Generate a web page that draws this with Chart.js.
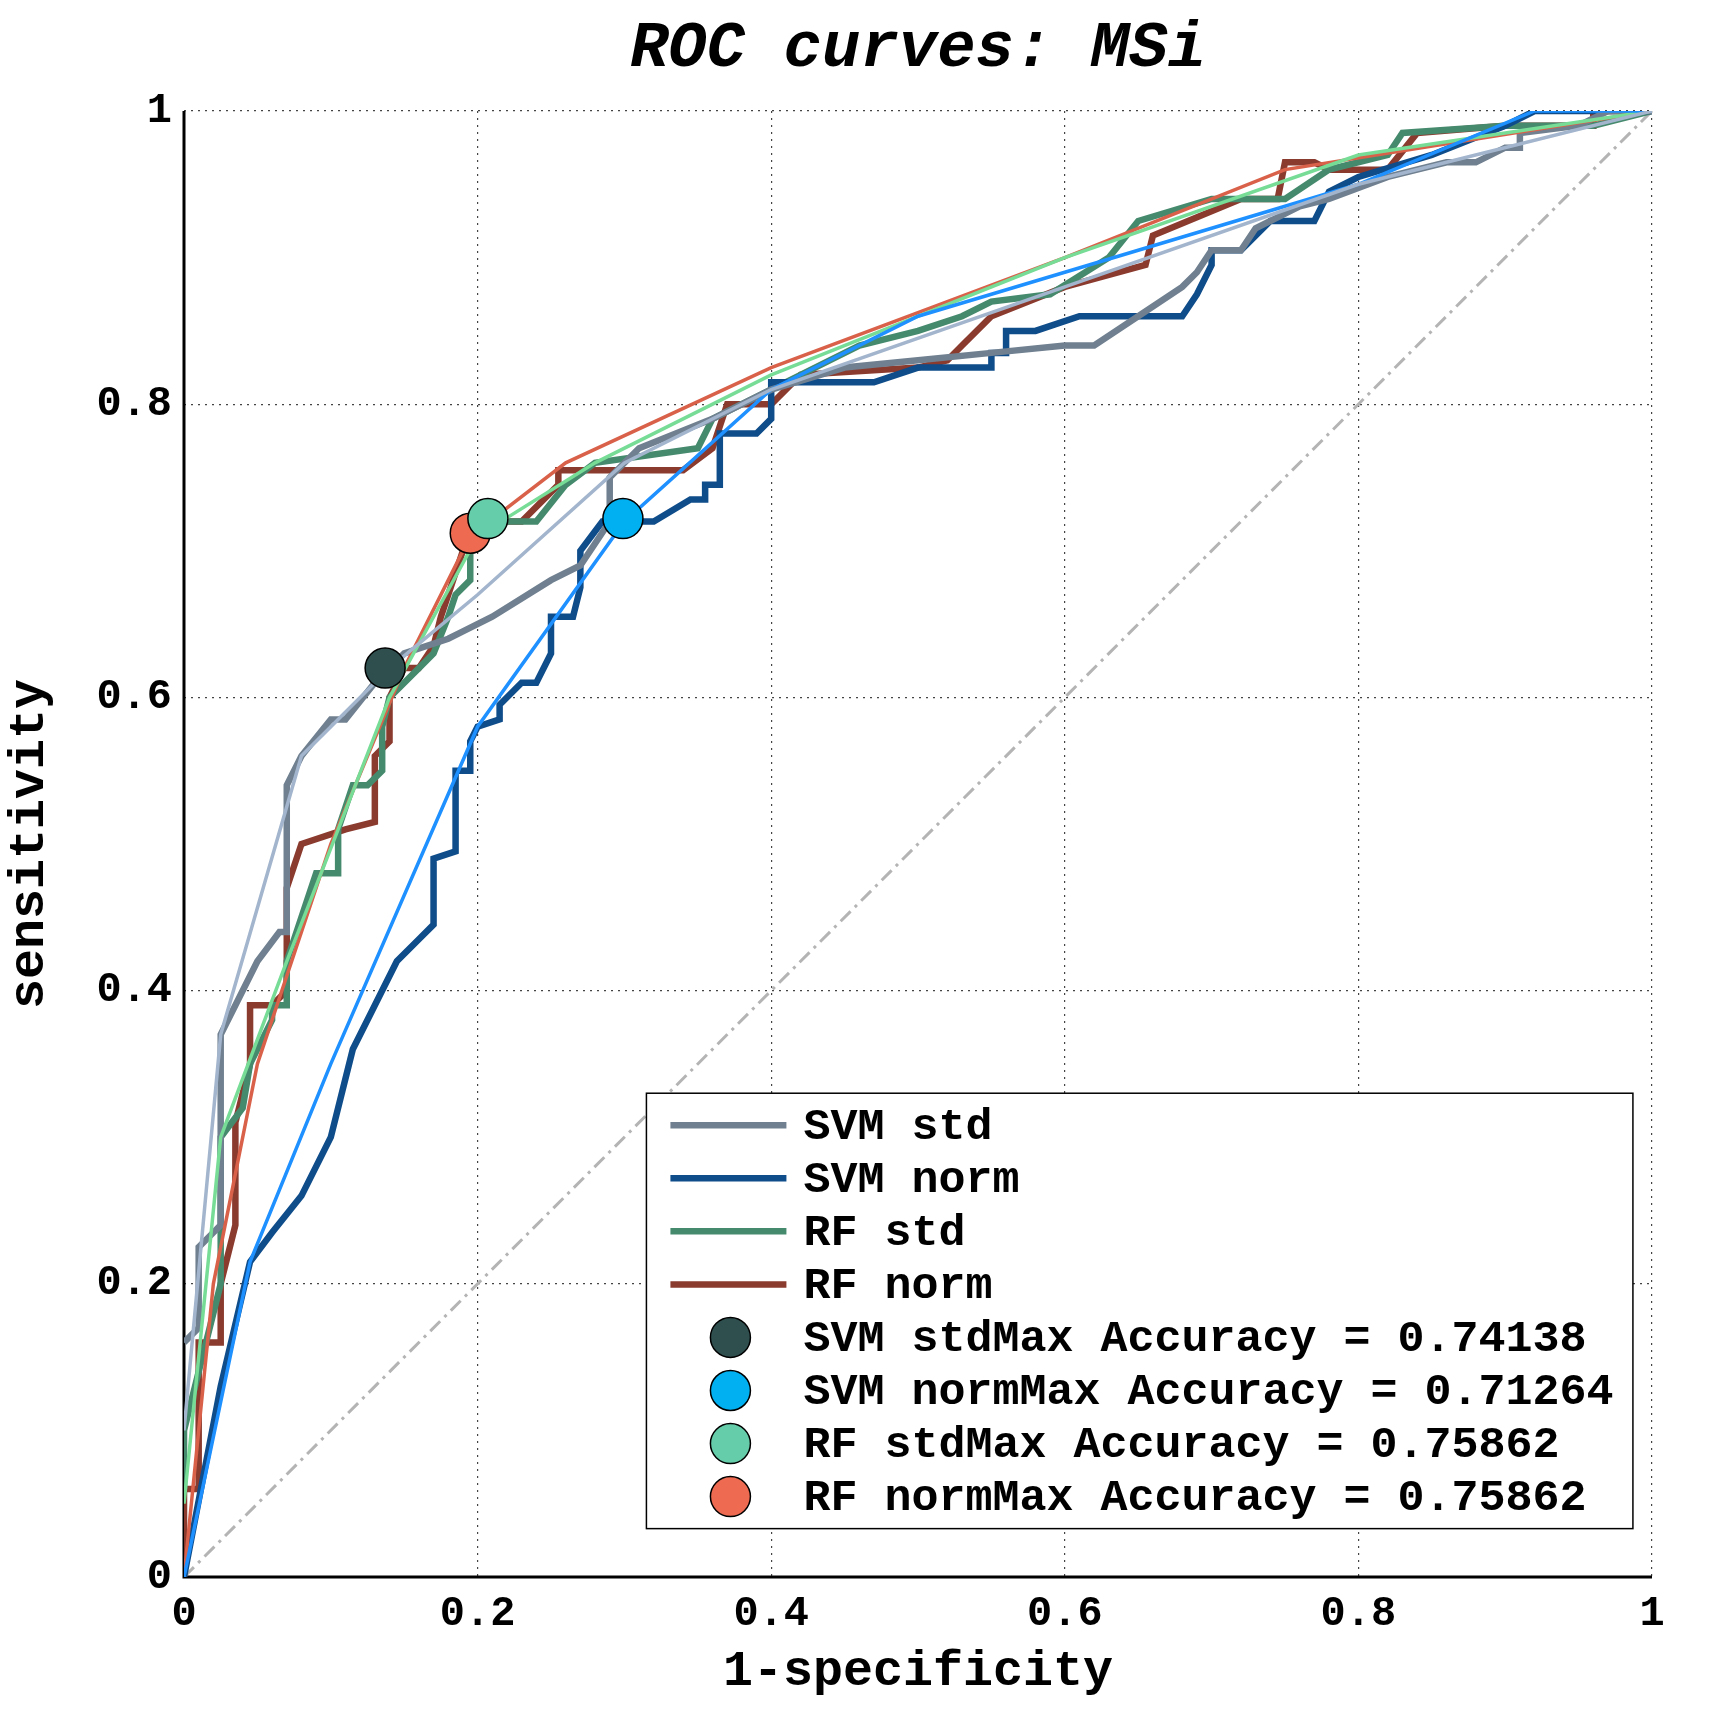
<!DOCTYPE html>
<html>
<head>
<meta charset="utf-8">
<script src="https://cdn.jsdelivr.net/npm/chart.js@4"></script>
<style>
  html, body { margin: 0; padding: 0; background: #fff; }
  #wrap { width: 1718px; height: 1716px; }
</style>
</head>
<body>
<div id="wrap"><canvas id="roc" width="1718" height="1716"></canvas></div>
<script>
const tickValues = [0, 0.2, 0.4, 0.6, 0.8, 1];
const tickLabels = ['0', '0.2', '0.4', '0.6', '0.8', '1'];

// step curves (thick)
const svmStdX = [0, 0.01, 0.01, 0.02, 0.025, 0.025, 0.035, 0.05, 0.065, 0.07, 0.07, 0.08, 0.1, 0.11, 0.13, 0.14, 0.15, 0.18, 0.19, 0.21, 0.25, 0.27, 0.29, 0.29, 0.31, 0.36, 0.4, 0.45, 0.5, 0.55, 0.6, 0.62, 0.65, 0.68, 0.69, 0.7, 0.72, 0.73, 0.76, 0.78, 0.82, 0.86, 0.88, 0.9, 0.91, 0.91, 0.95, 0.97, 1];
const svmStdY = [0.16, 0.17, 0.225, 0.235, 0.24, 0.37, 0.39, 0.42, 0.44, 0.44, 0.54, 0.56, 0.585, 0.585, 0.61, 0.62, 0.63, 0.64, 0.645, 0.655, 0.68, 0.69, 0.72, 0.75, 0.77, 0.79, 0.81, 0.825, 0.83, 0.835, 0.84, 0.84, 0.86, 0.88, 0.89, 0.905, 0.905, 0.92, 0.935, 0.94, 0.955, 0.965, 0.965, 0.975, 0.975, 0.985, 0.99, 1, 1];

const svmNormX = [0, 0.025, 0.045, 0.06, 0.08, 0.1, 0.115, 0.13, 0.145, 0.16, 0.17, 0.17, 0.185, 0.185, 0.195, 0.195, 0.2, 0.215, 0.215, 0.23, 0.24, 0.25, 0.25, 0.265, 0.27, 0.27, 0.285, 0.32, 0.345, 0.355, 0.355, 0.365, 0.365, 0.39, 0.4, 0.4, 0.47, 0.5, 0.55, 0.55, 0.56, 0.56, 0.58, 0.61, 0.68, 0.69, 0.7, 0.7, 0.72, 0.74, 0.77, 0.78, 0.8, 0.85, 0.9, 0.92, 1];
const svmNormY = [0, 0.13, 0.215, 0.235, 0.26, 0.3, 0.36, 0.39, 0.42, 0.435, 0.445, 0.49, 0.495, 0.55, 0.55, 0.57, 0.58, 0.585, 0.595, 0.61, 0.61, 0.63, 0.655, 0.655, 0.675, 0.7, 0.72, 0.72, 0.735, 0.735, 0.745, 0.745, 0.78, 0.78, 0.79, 0.815, 0.815, 0.825, 0.825, 0.835, 0.835, 0.85, 0.85, 0.86, 0.86, 0.875, 0.895, 0.905, 0.905, 0.925, 0.925, 0.945, 0.955, 0.97, 0.99, 1, 1];

const rfStdX = [0, 0, 0.02, 0.025, 0.025, 0.04, 0.045, 0.06, 0.06, 0.07, 0.07, 0.09, 0.105, 0.105, 0.115, 0.125, 0.135, 0.135, 0.14, 0.16, 0.17, 0.18, 0.185, 0.195, 0.195, 0.24, 0.26, 0.28, 0.35, 0.36, 0.38, 0.42, 0.46, 0.5, 0.53, 0.55, 0.59, 0.63, 0.65, 0.7, 0.75, 0.78, 0.82, 0.83, 0.9, 0.96, 1];
const rfStdY = [0.06, 0.1, 0.18, 0.2, 0.3, 0.32, 0.35, 0.38, 0.39, 0.39, 0.42, 0.48, 0.48, 0.51, 0.54, 0.54, 0.55, 0.58, 0.6, 0.62, 0.63, 0.655, 0.67, 0.68, 0.72, 0.72, 0.745, 0.76, 0.77, 0.79, 0.8, 0.82, 0.84, 0.85, 0.86, 0.87, 0.875, 0.9, 0.925, 0.94, 0.94, 0.96, 0.97, 0.985, 0.99, 0.99, 1];

const rfNormX = [0, 0, 0.01, 0.01, 0.025, 0.025, 0.035, 0.035, 0.045, 0.045, 0.06, 0.07, 0.07, 0.08, 0.11, 0.13, 0.13, 0.14, 0.14, 0.15, 0.16, 0.17, 0.175, 0.19, 0.2, 0.23, 0.255, 0.255, 0.34, 0.36, 0.37, 0.4, 0.42, 0.5, 0.52, 0.53, 0.55, 0.6, 0.655, 0.66, 0.72, 0.745, 0.75, 0.77, 0.78, 0.82, 0.84, 0.9, 0.96, 0.96, 1];
const rfNormY = [0, 0.06, 0.06, 0.16, 0.16, 0.2, 0.24, 0.31, 0.35, 0.39, 0.39, 0.4, 0.47, 0.5, 0.51, 0.515, 0.56, 0.57, 0.6, 0.62, 0.62, 0.635, 0.655, 0.7, 0.72, 0.72, 0.745, 0.755, 0.755, 0.77, 0.8, 0.8, 0.82, 0.825, 0.83, 0.84, 0.86, 0.88, 0.895, 0.915, 0.94, 0.94, 0.965, 0.965, 0.96, 0.96, 0.985, 0.99, 0.99, 1, 1];

// smoothed curves (thin)
const svmStdFitX = [0, 0.025, 0.08, 0.1, 0.14, 0.2, 0.3, 0.4, 0.6, 0.8, 1];
const svmStdFitY = [0.1, 0.37, 0.56, 0.58, 0.62, 0.67, 0.76, 0.81, 0.88, 0.95, 1];
const svmNormFitX = [0, 0.045, 0.1, 0.2, 0.3, 0.4, 0.5, 0.6, 0.8, 0.92, 1];
const svmNormFitY = [0, 0.215, 0.35, 0.58, 0.72, 0.81, 0.86, 0.89, 0.95, 1, 1];
const rfStdFitX = [0, 0.025, 0.07, 0.14, 0.2, 0.28, 0.4, 0.6, 0.8, 1];
const rfStdFitY = [0.05, 0.3, 0.42, 0.6, 0.71, 0.76, 0.82, 0.9, 0.97, 1];
const rfNormFitX = [0, 0.02, 0.05, 0.1, 0.15, 0.195, 0.26, 0.4, 0.6, 0.75, 1];
const rfNormFitY = [0, 0.2, 0.35, 0.5, 0.62, 0.71, 0.76, 0.825, 0.9, 0.96, 1];

// best operating points
const bestNames = ['SVM std', 'SVM norm', 'RF std', 'RF norm'];
const bestAcc = ['0.74138', '0.71264', '0.75862', '0.75862'];
const bestX = [0.137, 0.299, 0.207, 0.195];
const bestY = [0.62, 0.722, 0.722, 0.712];

const stepColors = ['#708090', '#0e4c8a', '#468a6e', '#8b3a2e'];
const fitColors = ['#a2b5cd', '#1e90ff', '#76dc96', '#d9614a'];
const dotColors = ['#2f4f4f', '#00b0f0', '#66cdaa', '#ee6a50'];

function pts(xs, ys) {
  return xs.map((x, i) => ({ x: x, y: ys[i] }));
}

const FONT = "'Liberation Mono', 'DejaVu Sans Mono', monospace";

const datasets = [];
datasets.push({ data: pts([0, 1], [0, 1]), borderColor: '#b4b4b4', borderWidth: 3, borderDash: [14, 6, 3, 6], pointRadius: 0, order: 4 });
const fits = [[svmStdFitX, svmStdFitY], [svmNormFitX, svmNormFitY], [rfStdFitX, rfStdFitY], [rfNormFitX, rfNormFitY]];
const steps = [[svmStdX, svmStdY], [svmNormX, svmNormY], [rfStdX, rfStdY], [rfNormX, rfNormY]];
steps.forEach((s, i) => datasets.push({ data: pts(s[0], s[1]), borderColor: stepColors[i], borderWidth: 6.5, pointRadius: 0, order: 3 }));
fits.forEach((s, i) => datasets.push({ data: pts(s[0], s[1]), borderColor: fitColors[i], borderWidth: 3.5, pointRadius: 0, order: 2 }));
bestX.forEach((x, i) => datasets.push({ data: [{ x: x, y: bestY[i] }], showLine: false, pointRadius: 20, pointBackgroundColor: dotColors[i], pointBorderColor: '#000', pointBorderWidth: 1.5, order: 1 }));

const decor = {
  id: 'decor',
  beforeDatasetsDraw(chart) {
    const ctx = chart.ctx, a = chart.chartArea;
    ctx.save();
    ctx.strokeStyle = '#000';
    ctx.lineWidth = 3;
    ctx.setLineDash([]);
    ctx.beginPath();
    ctx.moveTo(a.left, a.top);
    ctx.lineTo(a.left, a.bottom);
    ctx.lineTo(a.right, a.bottom);
    ctx.stroke();
    ctx.restore();
  },
  afterDraw(chart) {
    const ctx = chart.ctx, xs = chart.scales.x, ys = chart.scales.y;
    ctx.save();
    ctx.setLineDash([]);
    // title
    ctx.fillStyle = '#000';
    ctx.font = 'italic bold 64px ' + FONT;
    ctx.textAlign = 'center';
    ctx.textBaseline = 'middle';
    ctx.fillText('ROC curves: MSi', (xs.left + xs.right) / 2, 50);
    // legend box
    const bx0 = xs.getPixelForValue(0.315), bx1 = xs.getPixelForValue(0.987);
    const by0 = ys.getPixelForValue(0.33), by1 = ys.getPixelForValue(0.033);
    ctx.fillStyle = '#fff';
    ctx.fillRect(bx0, by0, bx1 - bx0, by1 - by0);
    ctx.strokeStyle = '#000';
    ctx.lineWidth = 1.5;
    ctx.strokeRect(bx0, by0, bx1 - bx0, by1 - by0);
    const labels = bestNames.concat(bestNames.map((n, i) => n + 'Max Accuracy = ' + bestAcc[i]));
    const pad = (by1 - by0) * 0.0735;
    const rowH = (by1 - by0 - 2 * pad) / 7;
    ctx.font = 'bold 45px ' + FONT;
    ctx.textAlign = 'left';
    labels.forEach((t, i) => {
      const cy = by0 + pad + rowH * i;
      if (i < 4) {
        ctx.strokeStyle = stepColors[i];
        ctx.lineWidth = 6.5;
        ctx.beginPath();
        ctx.moveTo(bx0 + 24, cy);
        ctx.lineTo(bx0 + 140, cy);
        ctx.stroke();
      } else {
        ctx.beginPath();
        ctx.arc(bx0 + 84, cy, 20, 0, Math.PI * 2);
        ctx.fillStyle = dotColors[i - 4];
        ctx.fill();
        ctx.strokeStyle = '#000';
        ctx.lineWidth = 1.5;
        ctx.stroke();
      }
      ctx.fillStyle = '#000';
      ctx.fillText(t, bx0 + 157, cy + 2);
    });
    ctx.restore();
  }
};

function axisOpts(title, isY) {
  return {
    type: 'linear', min: 0, max: 1,
    afterBuildTicks: (ax) => { ax.ticks = tickValues.map(v => ({ value: v })); },
    afterFit: (ax) => { if (isY) ax.width = 184; else ax.height = 139; },
    ticks: {
      color: '#000', font: { family: FONT, size: 42, weight: 'bold' }, padding: 12,
      callback: (v) => tickLabels[tickValues.indexOf(v)]
    },
    grid: { color: '#444', lineWidth: 1.2, drawTicks: false },
    border: { display: false, dash: [2, 5] },
    title: { display: true, text: title, color: '#000', font: { family: FONT, size: 50, weight: 'bold' }, padding: { top: 0, bottom: 14 } }
  };
}

const cfg = {
  type: 'scatter',
  data: { datasets: datasets },
  options: {
    responsive: false, animation: false,
    showLine: true,
    layout: { padding: { left: 0, right: 66, top: 111, bottom: 0 } },
    plugins: { legend: { display: false }, tooltip: { enabled: false } },
    elements: { line: { tension: 0 } },
    scales: { x: axisOpts('1-specificity', false), y: axisOpts('sensitivity', true) }
  },
  plugins: [decor]
};
new Chart(document.getElementById('roc').getContext('2d'), cfg);
</script>
</body>
</html>
